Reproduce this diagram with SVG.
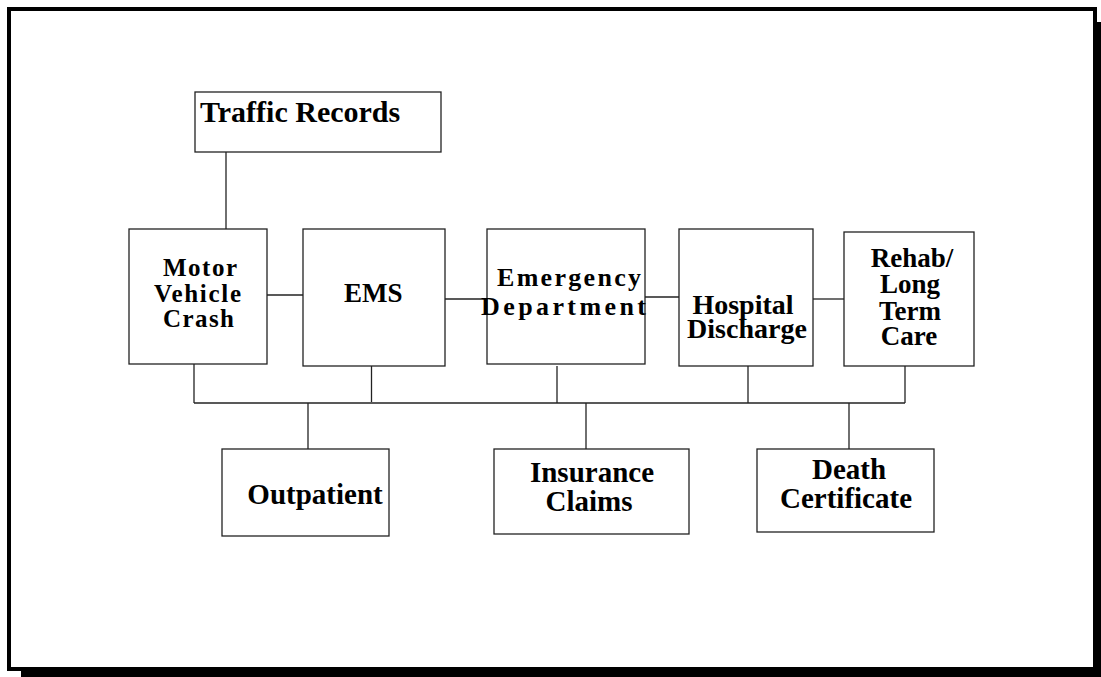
<svg xmlns="http://www.w3.org/2000/svg" width="1101" height="677" viewBox="0 0 1101 677">
<style>
.box{fill:#fff;stroke:#222;stroke-width:1.3}
.ln{stroke:#222;stroke-width:1.3;fill:none}
text{font-family:"Liberation Serif","Times New Roman",serif;font-weight:bold;fill:#000}
.c{text-anchor:middle}
</style>
<rect x="21" y="22" width="1090" height="670" fill="#000"/>
<rect x="9" y="9" width="1086" height="660" fill="#fff" stroke="#000" stroke-width="4"/>
<g id="connectors">
<line class="ln" x1="226" y1="152" x2="226" y2="229"/>
<line class="ln" x1="267" y1="295" x2="305" y2="295"/>
<line class="ln" x1="445" y1="299" x2="487" y2="299"/>
<line class="ln" x1="645" y1="297" x2="679" y2="297"/>
<line class="ln" x1="813" y1="299" x2="844" y2="299"/>
<line class="ln" x1="194" y1="364" x2="194" y2="403"/>
<line class="ln" x1="371.5" y1="366" x2="371.5" y2="402"/>
<line class="ln" x1="557" y1="366" x2="557" y2="403"/>
<line class="ln" x1="748" y1="366" x2="748" y2="403"/>
<line class="ln" x1="905" y1="366" x2="905" y2="403"/>
<line class="ln" x1="194" y1="403" x2="905" y2="403"/>
<line class="ln" x1="308" y1="403" x2="308" y2="449"/>
<line class="ln" x1="586" y1="403" x2="586" y2="449"/>
<line class="ln" x1="849" y1="403" x2="849" y2="449"/>
</g>
<g id="traffic-records">
<rect class="box" x="195" y="92" width="246" height="60"/>
<text x="200" y="122" font-size="30">Traffic Records</text>
</g>
<g id="motor-vehicle-crash">
<rect class="box" x="129" y="229" width="138" height="135"/>
<text x="163" y="276" font-size="25" textLength="74" lengthAdjust="spacing">Motor</text>
<text x="154" y="302" font-size="25" textLength="87" lengthAdjust="spacing">Vehicle</text>
<text x="163" y="327" font-size="25" textLength="71" lengthAdjust="spacing">Crash</text>
</g>
<g id="ems">
<rect class="box" x="303" y="229" width="142" height="137"/>
<text x="344" y="302" font-size="27">EMS</text>
</g>
<g id="emergency-department">
<rect class="box" x="487" y="229" width="158" height="135"/>
<text x="497" y="286" font-size="26" textLength="144" lengthAdjust="spacing">Emergency</text>
<text x="481" y="315" font-size="26" textLength="165" lengthAdjust="spacing">Department</text>
</g>
<g id="hospital-discharge">
<rect class="box" x="679" y="229" width="134" height="137"/>
<text class="c" x="743" y="314" font-size="28">Hospital</text>
<text class="c" x="747" y="338" font-size="28">Discharge</text>
</g>
<g id="rehab">
<rect class="box" x="844" y="232" width="130" height="134"/>
<text class="c" x="912" y="267" font-size="27">Rehab/</text>
<text class="c" x="910" y="293" font-size="27">Long</text>
<text class="c" x="910" y="320" font-size="27">Term</text>
<text class="c" x="909" y="345" font-size="27">Care</text>
</g>
<g id="outpatient">
<rect class="box" x="222" y="449" width="167" height="87"/>
<text class="c" x="315" y="504" font-size="29">Outpatient</text>
</g>
<g id="insurance-claims">
<rect class="box" x="494" y="449" width="195" height="85"/>
<text class="c" x="592" y="482" font-size="29">Insurance</text>
<text class="c" x="589" y="511" font-size="29">Claims</text>
</g>
<g id="death-certificate">
<rect class="box" x="757" y="449" width="177" height="83"/>
<text class="c" x="849" y="479" font-size="29">Death</text>
<text class="c" x="846" y="508" font-size="29">Certificate</text>
</g>
</svg>
